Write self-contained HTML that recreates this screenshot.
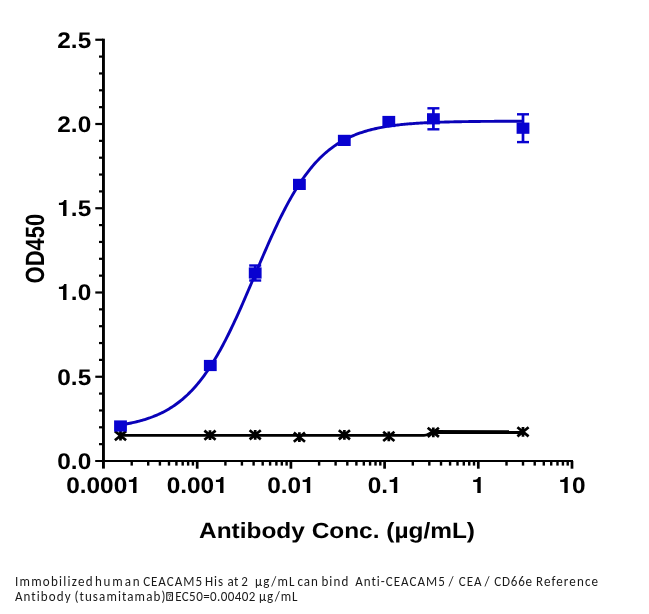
<!DOCTYPE html><html><head><meta charset="utf-8"><style>html,body{margin:0;padding:0;background:#fff;}svg{display:block}.t{font-family:"Liberation Sans",Arial,sans-serif;font-weight:bold;font-size:22px;fill:#000;text-rendering:geometricPrecision}.one{font-family:"TeX Gyre Heros","Liberation Sans",sans-serif}.c{font-family:Carlito,"Liberation Sans",sans-serif;font-size:14.5px;fill:#1a1a1a;white-space:pre;font-variant-ligatures:none;text-rendering:optimizeSpeed}</style></head><body><div style="position:relative;width:649px;height:614px;overflow:hidden">
<svg style="will-change:transform" width="649" height="614" viewBox="0 0 649 614">
<g fill="#000">
<rect x="102.0" y="38.7" width="2.9" height="429.9"/>
<rect x="95.2" y="460" width="477.8" height="2"/>
<rect x="99" y="443.05" width="4" height="2.2"/>
<rect x="99" y="426.20" width="4" height="2.2"/>
<rect x="99" y="409.35" width="4" height="2.2"/>
<rect x="99" y="392.50" width="4" height="2.2"/>
<rect x="95.3" y="375.65" width="8" height="2.2"/>
<rect x="99" y="358.80" width="4" height="2.2"/>
<rect x="99" y="341.95" width="4" height="2.2"/>
<rect x="99" y="325.10" width="4" height="2.2"/>
<rect x="99" y="308.25" width="4" height="2.2"/>
<rect x="95.3" y="291.40" width="8" height="2.2"/>
<rect x="99" y="274.55" width="4" height="2.2"/>
<rect x="99" y="257.70" width="4" height="2.2"/>
<rect x="99" y="240.85" width="4" height="2.2"/>
<rect x="99" y="224.00" width="4" height="2.2"/>
<rect x="95.3" y="207.15" width="8" height="2.2"/>
<rect x="99" y="190.30" width="4" height="2.2"/>
<rect x="99" y="173.45" width="4" height="2.2"/>
<rect x="99" y="156.60" width="4" height="2.2"/>
<rect x="99" y="139.75" width="4" height="2.2"/>
<rect x="95.3" y="122.90" width="8" height="2.2"/>
<rect x="99" y="106.05" width="4" height="2.2"/>
<rect x="99" y="89.20" width="4" height="2.2"/>
<rect x="99" y="72.35" width="4" height="2.2"/>
<rect x="99" y="55.50" width="4" height="2.2"/>
<rect x="95.3" y="38.65" width="8" height="2.2"/>
<rect x="130.51" y="461" width="2.4" height="4.6"/>
<rect x="147.01" y="461" width="2.4" height="4.6"/>
<rect x="158.71" y="461" width="2.4" height="4.6"/>
<rect x="167.79" y="461" width="2.4" height="4.6"/>
<rect x="175.21" y="461" width="2.4" height="4.6"/>
<rect x="181.49" y="461" width="2.4" height="4.6"/>
<rect x="186.92" y="461" width="2.4" height="4.6"/>
<rect x="191.71" y="461" width="2.4" height="4.6"/>
<rect x="195.85" y="461" width="2.7" height="7.7"/>
<rect x="224.21" y="461" width="2.4" height="4.6"/>
<rect x="240.71" y="461" width="2.4" height="4.6"/>
<rect x="252.41" y="461" width="2.4" height="4.6"/>
<rect x="261.49" y="461" width="2.4" height="4.6"/>
<rect x="268.91" y="461" width="2.4" height="4.6"/>
<rect x="275.19" y="461" width="2.4" height="4.6"/>
<rect x="280.62" y="461" width="2.4" height="4.6"/>
<rect x="285.41" y="461" width="2.4" height="4.6"/>
<rect x="289.55" y="461" width="2.7" height="7.7"/>
<rect x="317.91" y="461" width="2.4" height="4.6"/>
<rect x="334.41" y="461" width="2.4" height="4.6"/>
<rect x="346.11" y="461" width="2.4" height="4.6"/>
<rect x="355.19" y="461" width="2.4" height="4.6"/>
<rect x="362.61" y="461" width="2.4" height="4.6"/>
<rect x="368.89" y="461" width="2.4" height="4.6"/>
<rect x="374.32" y="461" width="2.4" height="4.6"/>
<rect x="379.11" y="461" width="2.4" height="4.6"/>
<rect x="383.25" y="461" width="2.7" height="7.7"/>
<rect x="411.61" y="461" width="2.4" height="4.6"/>
<rect x="428.11" y="461" width="2.4" height="4.6"/>
<rect x="439.81" y="461" width="2.4" height="4.6"/>
<rect x="448.89" y="461" width="2.4" height="4.6"/>
<rect x="456.31" y="461" width="2.4" height="4.6"/>
<rect x="462.59" y="461" width="2.4" height="4.6"/>
<rect x="468.02" y="461" width="2.4" height="4.6"/>
<rect x="472.81" y="461" width="2.4" height="4.6"/>
<rect x="476.95" y="461" width="2.7" height="7.7"/>
<rect x="505.31" y="461" width="2.4" height="4.6"/>
<rect x="521.81" y="461" width="2.4" height="4.6"/>
<rect x="533.51" y="461" width="2.4" height="4.6"/>
<rect x="542.59" y="461" width="2.4" height="4.6"/>
<rect x="550.01" y="461" width="2.4" height="4.6"/>
<rect x="556.29" y="461" width="2.4" height="4.6"/>
<rect x="561.72" y="461" width="2.4" height="4.6"/>
<rect x="566.51" y="461" width="2.4" height="4.6"/>
<rect x="570.65" y="461" width="2.7" height="7.7"/>
</g>
<text class="t" text-anchor="end" style="font-size:22.7px" transform="translate(91.2,468.90) scale(1.075,1)">0.0</text>
<text class="t" text-anchor="end" style="font-size:22.7px" transform="translate(91.2,384.65) scale(1.075,1)">0.5</text>
<text class="t" text-anchor="end" style="font-size:22.7px" transform="translate(91.2,300.40) scale(1.075,1)"><tspan class="one">1</tspan>.0</text>
<text class="t" text-anchor="end" style="font-size:22.7px" transform="translate(91.2,216.15) scale(1.075,1)"><tspan class="one">1</tspan>.5</text>
<text class="t" text-anchor="end" style="font-size:22.7px" transform="translate(91.2,131.90) scale(1.075,1)">2.0</text>
<text class="t" text-anchor="end" style="font-size:22.7px" transform="translate(91.2,47.65) scale(1.075,1)">2.5</text>
<text class="t" text-anchor="middle" style="font-size:22.7px" transform="translate(103.50,493) scale(1.075,1)">0.000<tspan class="one">1</tspan></text>
<text class="t" text-anchor="middle" style="font-size:22.7px" transform="translate(197.20,493) scale(1.075,1)">0.00<tspan class="one">1</tspan></text>
<text class="t" text-anchor="middle" style="font-size:22.7px" transform="translate(290.90,493) scale(1.075,1)">0.0<tspan class="one">1</tspan></text>
<text class="t" text-anchor="middle" style="font-size:22.7px" transform="translate(384.60,493) scale(1.075,1)">0.<tspan class="one">1</tspan></text>
<text class="t" text-anchor="middle" style="font-size:22.7px" transform="translate(478.30,493) scale(1.075,1)"><tspan class="one">1</tspan></text>
<text class="t" text-anchor="middle" style="font-size:22.7px" transform="translate(572.00,493) scale(1.075,1)"><tspan class="one">1</tspan>0</text>
<text class="t" text-anchor="middle" transform="translate(337,538.2) scale(1.11,1)">Antibody Conc. (µg/mL)</text>
<text class="t" text-anchor="middle" transform="translate(44.2,248.6) scale(1.2,1) rotate(-90)">OD450</text>
<path d="M120.50,424.88 L121.85,424.67 L123.19,424.45 L124.54,424.23 L125.88,423.99 L127.23,423.75 L128.58,423.49 L129.92,423.23 L131.27,422.96 L132.62,422.67 L133.96,422.37 L135.31,422.06 L136.65,421.74 L138.00,421.41 L139.35,421.06 L140.69,420.70 L142.04,420.33 L143.38,419.94 L144.73,419.53 L146.08,419.11 L147.42,418.67 L148.77,418.22 L150.12,417.75 L151.46,417.26 L152.81,416.75 L154.15,416.22 L155.50,415.67 L156.85,415.10 L158.19,414.51 L159.54,413.90 L160.88,413.26 L162.23,412.60 L163.58,411.92 L164.92,411.21 L166.27,410.47 L167.62,409.71 L168.96,408.92 L170.31,408.10 L171.65,407.25 L173.00,406.37 L174.35,405.46 L175.69,404.52 L177.04,403.54 L178.38,402.53 L179.73,401.49 L181.08,400.41 L182.42,399.29 L183.77,398.14 L185.12,396.95 L186.46,395.72 L187.81,394.45 L189.15,393.13 L190.50,391.78 L191.85,390.39 L193.19,388.95 L194.54,387.46 L195.88,385.94 L197.23,384.36 L198.58,382.74 L199.92,381.07 L201.27,379.36 L202.62,377.60 L203.96,375.79 L205.31,373.93 L206.65,372.02 L208.00,370.06 L209.35,368.05 L210.69,365.99 L212.04,363.88 L213.38,361.72 L214.73,359.51 L216.08,357.25 L217.42,354.94 L218.77,352.58 L220.12,350.18 L221.46,347.72 L222.81,345.22 L224.15,342.67 L225.50,340.07 L226.85,337.43 L228.19,334.74 L229.54,332.01 L230.88,329.25 L232.23,326.44 L233.58,323.59 L234.92,320.70 L236.27,317.78 L237.62,314.83 L238.96,311.85 L240.31,308.84 L241.65,305.80 L243.00,302.73 L244.35,299.65 L245.69,296.54 L247.04,293.42 L248.38,290.28 L249.73,287.13 L251.08,283.97 L252.42,280.80 L253.77,277.63 L255.12,274.46 L256.46,271.28 L257.81,268.12 L259.15,264.95 L260.50,261.80 L261.85,258.66 L263.19,255.53 L264.54,252.42 L265.88,249.32 L267.23,246.25 L268.58,243.20 L269.92,240.18 L271.27,237.19 L272.62,234.23 L273.96,231.30 L275.31,228.40 L276.65,225.54 L278.00,222.72 L279.35,219.94 L280.69,217.19 L282.04,214.49 L283.38,211.84 L284.73,209.23 L286.08,206.66 L287.42,204.14 L288.77,201.67 L290.12,199.25 L291.46,196.87 L292.81,194.55 L294.15,192.27 L295.50,190.04 L296.85,187.87 L298.19,185.74 L299.54,183.67 L300.88,181.64 L302.23,179.67 L303.58,177.74 L304.92,175.86 L306.27,174.04 L307.62,172.26 L308.96,170.53 L310.31,168.85 L311.65,167.21 L313.00,165.62 L314.35,164.08 L315.69,162.58 L317.04,161.13 L318.38,159.72 L319.73,158.35 L321.08,157.02 L322.42,155.74 L323.77,154.50 L325.12,153.29 L326.46,152.13 L327.81,151.00 L329.15,149.91 L330.50,148.85 L331.85,147.83 L333.19,146.84 L334.54,145.89 L335.88,144.97 L337.23,144.08 L338.58,143.22 L339.92,142.39 L341.27,141.59 L342.62,140.82 L343.96,140.08 L345.31,139.36 L346.65,138.67 L348.00,138.00 L349.35,137.35 L350.69,136.73 L352.04,136.13 L353.38,135.56 L354.73,135.00 L356.08,134.47 L357.42,133.95 L358.77,133.46 L360.12,132.98 L361.46,132.52 L362.81,132.07 L364.15,131.65 L365.50,131.24 L366.85,130.84 L368.19,130.46 L369.54,130.10 L370.88,129.75 L372.23,129.41 L373.58,129.08 L374.92,128.77 L376.27,128.47 L377.62,128.18 L378.96,127.90 L380.31,127.63 L381.65,127.38 L383.00,127.13 L384.35,126.89 L385.69,126.66 L387.04,126.44 L388.38,126.23 L389.73,126.03 L391.08,125.84 L392.42,125.65 L393.77,125.47 L395.12,125.30 L396.46,125.13 L397.81,124.97 L399.15,124.82 L400.50,124.67 L401.85,124.53 L403.19,124.39 L404.54,124.26 L405.88,124.14 L407.23,124.02 L408.58,123.90 L409.92,123.79 L411.27,123.68 L412.62,123.58 L413.96,123.48 L415.31,123.39 L416.65,123.30 L418.00,123.21 L419.35,123.12 L420.69,123.04 L422.04,122.97 L423.38,122.89 L424.73,122.82 L426.08,122.75 L427.42,122.69 L428.77,122.63 L430.12,122.56 L431.46,122.51 L432.81,122.45 L434.15,122.40 L435.50,122.35 L436.85,122.30 L438.19,122.25 L439.54,122.20 L440.88,122.16 L442.23,122.12 L443.58,122.08 L444.92,122.04 L446.27,122.00 L447.62,121.97 L448.96,121.93 L450.31,121.90 L451.65,121.87 L453.00,121.84 L454.35,121.81 L455.69,121.78 L457.04,121.76 L458.38,121.73 L459.73,121.70 L461.08,121.68 L462.42,121.66 L463.77,121.64 L465.12,121.62 L466.46,121.60 L467.81,121.58 L469.15,121.56 L470.50,121.54 L471.85,121.52 L473.19,121.51 L474.54,121.49 L475.88,121.48 L477.23,121.46 L478.58,121.45 L479.92,121.43 L481.27,121.42 L482.62,121.41 L483.96,121.40 L485.31,121.39 L486.65,121.38 L488.00,121.37 L489.35,121.36 L490.69,121.35 L492.04,121.34 L493.38,121.33 L494.73,121.32 L496.08,121.31 L497.42,121.30 L498.77,121.30 L500.12,121.29 L501.46,121.28 L502.81,121.28 L504.15,121.27 L505.50,121.26 L506.85,121.26 L508.19,121.25 L509.54,121.25 L510.88,121.24 L512.23,121.24 L513.58,121.23 L514.92,121.23 L516.27,121.22 L517.62,121.22 L518.96,121.21 L520.31,121.21 L521.65,121.21 L523.00,121.20" fill="none" stroke="#0A02B8" stroke-width="2.9"/>
<path d="M120.5,435.4 L424,435.4 C428,435.4 430,432.2 433,432.0" fill="none" stroke="#000" stroke-width="2.6"/>
<path d="M433,432.0 L523,432.1" fill="none" stroke="#000" stroke-width="3.8"/>
<path d="M114.90,431.10 L126.10,440.30 M126.10,431.10 L114.90,440.30 M120.50,430.80 L120.50,440.60" stroke="#000" stroke-width="2.7" fill="none"/>
<path d="M204.40,430.60 L215.60,439.80 M215.60,430.60 L204.40,439.80 M210.00,430.30 L210.00,440.10" stroke="#000" stroke-width="2.7" fill="none"/>
<path d="M249.60,430.20 L260.80,439.40 M260.80,430.20 L249.60,439.40 M255.20,429.90 L255.20,439.70" stroke="#000" stroke-width="2.7" fill="none"/>
<path d="M293.80,432.60 L305.00,441.80 M305.00,432.60 L293.80,441.80 M299.40,432.30 L299.40,442.10" stroke="#000" stroke-width="2.7" fill="none"/>
<path d="M338.80,430.20 L350.00,439.40 M350.00,430.20 L338.80,439.40 M344.40,429.90 L344.40,439.70" stroke="#000" stroke-width="2.7" fill="none"/>
<path d="M383.20,431.80 L394.40,441.00 M394.40,431.80 L383.20,441.00 M388.80,431.50 L388.80,441.30" stroke="#000" stroke-width="2.7" fill="none"/>
<path d="M427.70,427.70 L438.90,436.90 M438.90,427.70 L427.70,436.90 M433.30,427.40 L433.30,437.20" stroke="#000" stroke-width="2.7" fill="none"/>
<path d="M517.40,427.20 L528.60,436.40 M528.60,427.20 L517.40,436.40 M523.00,426.90 L523.00,436.70" stroke="#000" stroke-width="2.7" fill="none"/>
<rect x="114.10" y="420.40" width="12.8" height="11.2" fill="#0802D0"/>
<rect x="203.90" y="359.90" width="12.8" height="11.2" fill="#0802D0"/>
<g fill="#0802D0"><rect x="253.85" y="265.50" width="2.7" height="15.00"/><rect x="249.20" y="264.30" width="12" height="2.4"/><rect x="249.20" y="279.30" width="12" height="2.4"/></g>
<rect x="248.80" y="267.40" width="12.8" height="11.2" fill="#0802D0"/>
<rect x="293.00" y="178.80" width="12.8" height="11.2" fill="#0802D0"/>
<rect x="337.90" y="134.80" width="12.8" height="11.2" fill="#0802D0"/>
<rect x="382.40" y="115.90" width="12.8" height="11.2" fill="#0802D0"/>
<g fill="#0802D0"><rect x="432.05" y="108.30" width="2.7" height="21.00"/><rect x="427.40" y="107.10" width="12" height="2.4"/><rect x="427.40" y="128.10" width="12" height="2.4"/></g>
<rect x="427.00" y="113.20" width="12.8" height="11.2" fill="#0802D0"/>
<g fill="#0802D0"><rect x="521.65" y="114.30" width="2.7" height="27.80"/><rect x="517.00" y="113.10" width="12" height="2.4"/><rect x="517.00" y="140.90" width="12" height="2.4"/></g>
<rect x="516.60" y="122.60" width="12.8" height="11.2" fill="#0802D0"/>
<text class="c" transform="translate(14.90,585.9) scale(0.9,1)" textLength="86.31" lengthAdjust="spacing">Immobilized</text>
<text class="c" transform="translate(94.90,585.9) scale(0.9,1)" textLength="49.67" lengthAdjust="spacing">human</text>
<text class="c" transform="translate(143.16,585.9) scale(0.9,1)" textLength="65.47" lengthAdjust="spacing">CEACAM5</text>
<text class="c" transform="translate(204.90,585.9) scale(0.9,1)" textLength="20.18" lengthAdjust="spacing">His</text>
<text class="c" transform="translate(227.44,585.9) scale(0.9,1)" textLength="12.11" lengthAdjust="spacing">at</text>
<text class="c" transform="translate(241.16,585.9) scale(0.9,1)">2</text>
<text class="c" transform="translate(254.90,585.9) scale(0.9,1)" textLength="44.09" lengthAdjust="spacing">µg/mL</text>
<text class="c" transform="translate(297.40,585.9) scale(0.9,1)" textLength="22.71" lengthAdjust="spacing">can</text>
<text class="c" transform="translate(321.40,585.9) scale(0.9,1)" textLength="29.93" lengthAdjust="spacing">bind</text>
<text class="c" transform="translate(355.18,585.9) scale(0.9,1)" textLength="99.62" lengthAdjust="spacing">Anti-CEACAM5</text>
<text class="c" transform="translate(448.40,585.9) scale(0.9,1)">/</text>
<text class="c" transform="translate(458.68,585.9) scale(0.9,1)" textLength="25.44" lengthAdjust="spacing">CEA</text>
<text class="c" transform="translate(484.42,585.9) scale(0.9,1)">/</text>
<text class="c" transform="translate(494.16,585.9) scale(0.9,1)" textLength="42.11" lengthAdjust="spacing">CD66e</text>
<text class="c" transform="translate(535.92,585.9) scale(0.9,1)" textLength="69.04" lengthAdjust="spacing">Reference</text>
<text class="c" transform="translate(14.92,600.7) scale(0.9,1)" textLength="61.82" lengthAdjust="spacing">Antibody</text>
<text class="c" transform="translate(74.40,600.7) scale(0.9,1)" textLength="101.11" lengthAdjust="spacing">(tusamitamab)</text>
<text class="c" transform="translate(175.18,600.7) scale(0.9,1)" textLength="89.07" lengthAdjust="spacing">EC50=0.00402</text>
<text class="c" transform="translate(258.90,600.7) scale(0.9,1)" textLength="42.96" lengthAdjust="spacing">µg/mL</text>
<rect x="166.8" y="592.7" width="5.6" height="7.6" fill="none" stroke="#000" stroke-width="1"/>
<text x="169.6" y="599" text-anchor="middle" style="font-family:Liberation Sans,sans-serif;font-size:7px;font-weight:bold" fill="#333">?</text>
</svg>
</div></body></html>
